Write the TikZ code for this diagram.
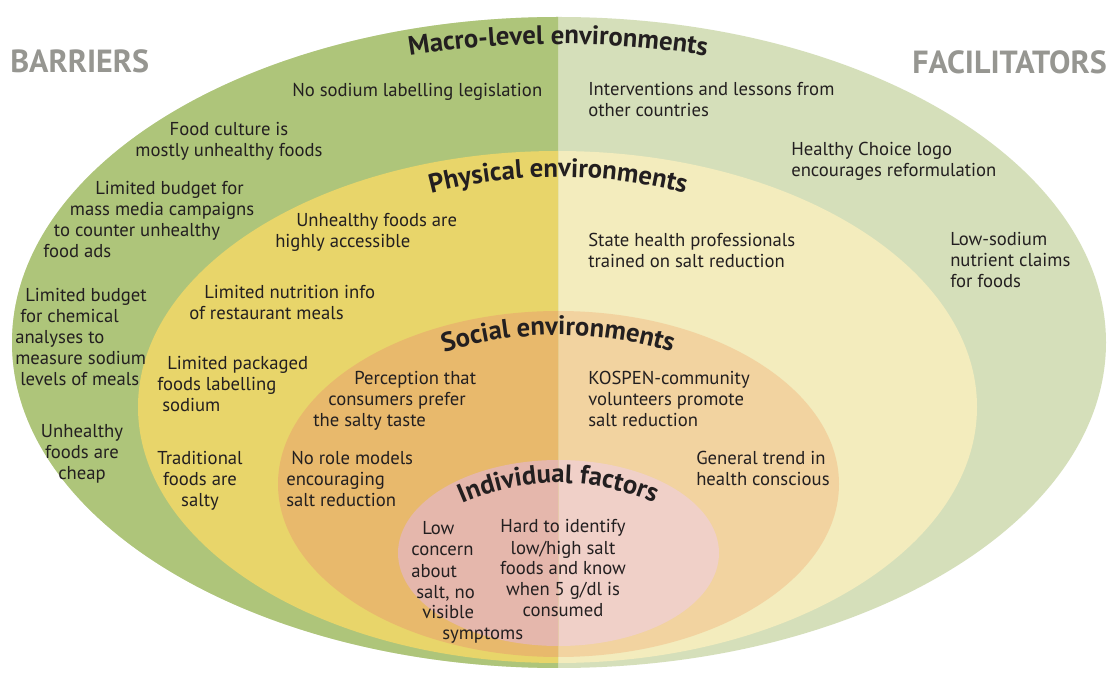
\documentclass[tikz,border=0pt]{standalone}
\usepackage{fontspec}
\setmainfont{PT Sans}
\usetikzlibrary{decorations.text}

\definecolor{macroDark}{RGB}{174,197,122}
\definecolor{macroLight}{RGB}{213,223,186}
\definecolor{physDark}{RGB}{232,213,106}
\definecolor{physLight}{RGB}{243,236,189}
\definecolor{socDark}{RGB}{232,185,108}
\definecolor{socLight}{RGB}{242,211,160}
\definecolor{indDark}{RGB}{229,183,172}
\definecolor{indLight}{RGB}{240,208,200}
\definecolor{sideGrey}{RGB}{150,150,145}
\definecolor{txt}{RGB}{35,31,32}

\newcommand{\ringfont}{\fontsize{20}{20}\selectfont\bfseries}

\tikzset{
  lbl/.style={inner sep=0pt, text=txt, font=\fontsize{14}{15.75}\selectfont, align=left, anchor=base west},
  lblc/.style={lbl, align=center, anchor=base},
  sidelabel/.style={inner sep=0pt, text=sideGrey, font=\fontsize{24}{24}\selectfont\bfseries},
  ring/.style={decorate, decoration={text along path, text align=center, text color=txt, text={|\ringfont|#1}}}
}

\begin{document}
\begin{tikzpicture}[x=0.75pt,y=-0.75pt]
\useasboundingbox (0,0) rectangle (1108,673);
\fill[white] (0,0) rectangle (1108,673);

% facilitator halves
\fill[macroLight] (559,342.5) ellipse[x radius=547, y radius=325.5];
\fill[physLight] (557.5,407) ellipse[x radius=419.5, y radius=256];
\fill[socLight] (558.5,484) ellipse[x radius=280.5, y radius=173];
\fill[indLight] (558.5,553) ellipse[x radius=160.5, y radius=93];
% barrier halves
\begin{scope}
\clip (0,0) rectangle (558,673);
\fill[macroDark] (559,342.5) ellipse[x radius=547, y radius=325.5];
\fill[physDark] (557.5,407) ellipse[x radius=419.5, y radius=256];
\fill[socDark] (558.5,484) ellipse[x radius=280.5, y radius=173];
\fill[indDark] (558.5,553) ellipse[x radius=160.5, y radius=93];
\end{scope}

% ring titles
\path[ring={Macro-level environments}] (558,984) ++(258:940) arc[start angle=258, end angle=282, radius=940];
\path[ring={Physical environments}] (558,681) ++(250:504) arc[start angle=250, end angle=290, radius=504];
\path[ring={Social environments}] (558,722) ++(248:387) arc[start angle=248, end angle=292, radius=387];
\path[ring={Individual factors}] (558,723) ++(238:240) arc[start angle=238, end angle=302, radius=240];

\node[sidelabel, anchor=base west] (barriers) at (10,73) {BARRIERS};
\node[sidelabel, anchor=base east] (facilitators) at (1107,74) {FACILITATORS};

% barriers (y = baseline of the last line)
\node[lbl] (nosodium) at (292,97) {No sodium labelling legislation};
\node[lblc] (culture) at (229,157) {Food culture is\\mostly unhealthy foods};
\node[lbl] (massmedia) at (43,258) {\hspace*{39pt}Limited budget for\\\hspace*{20pt}mass media campaigns\\\hspace*{8pt}to counter unhealthy\\food ads};
\node[lbl] (chemical) at (15,386) {\hspace*{7.5pt}Limited budget\\\hspace*{3.75pt}for chemical\\analyses to\\measure sodium\\\hspace*{3.75pt}levels of meals};
\node[lblc] (cheap) at (82,480) {Unhealthy\\foods are\\cheap};
\node[lbl] (accessible) at (275,248) {\hspace*{15.75pt}Unhealthy foods are\\highly accessible};
\node[lbl] (nutrition) at (189,320) {\hspace*{11.25pt}Limited nutrition info\\of restaurant meals};
\node[lbl] (packaged) at (157,412) {\hspace*{7.5pt}Limited packaged\\foods labelling\\\hspace*{3.75pt}sodium};
\node[lblc] (traditional) at (200,507) {Traditional\\foods are\\salty};
\node[lbl] (perception) at (313,427) {\hspace*{30.75pt}Perception that\\\hspace*{11.25pt}consumers prefer\\the salty taste};
\node[lbl] (rolemodels) at (286,507) {\hspace*{3.75pt}No role models\\encouraging\\salt reduction};
\node[lbl] (lowconcern) at (411,640) {\hspace*{8.25pt}Low\\concern\\about\\\hspace*{3.75pt}salt, no\\\hspace*{8.25pt}visible\\\hspace*{23.25pt}symptoms};
\node[lblc] (hardto) at (563,617) {Hard to identify\\low/high salt\\foods and know\\when 5 g/dl is\\consumed};

% facilitators
\node[lbl] (lessons) at (588,117) {Interventions and lessons from\\other countries};
\node[lbl] (healthychoice) at (791,177) {Healthy Choice logo\\encourages reformulation};
\node[lbl] (trained) at (588,268) {State health professionals\\trained on salt reduction};
\node[lbl] (claims) at (950,288) {Low-sodium\\nutrient claims\\for foods};
\node[lbl] (kospen) at (588,427) {KOSPEN-community\\volunteers promote\\salt reduction};
\node[lbl] (trend) at (696,486) {General trend in\\health conscious};
\end{tikzpicture}
\end{document}
